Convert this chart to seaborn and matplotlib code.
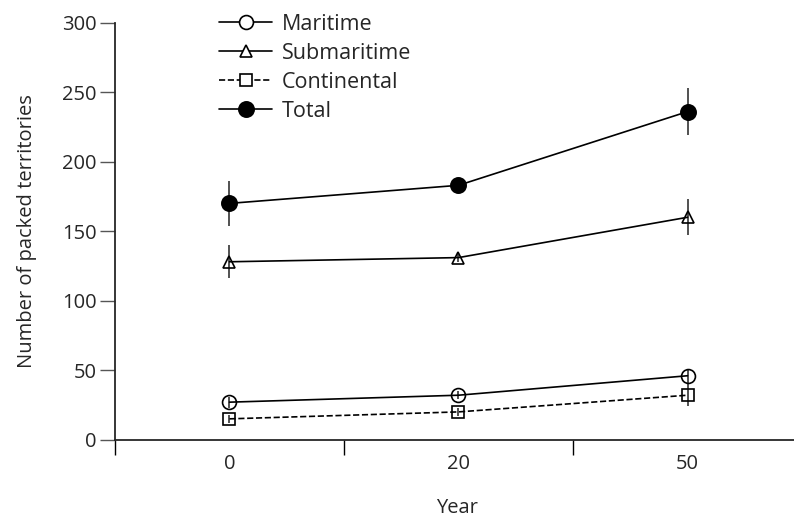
import pandas as pd
import matplotlib.pyplot as plt
import seaborn as sns

years = ['0', '20', '50']
positions = [0, 1, 2]

maritime = [27, 32, 46]
maritime_err = [4, 3, 5]
submaritime = [128, 131, 160]
submaritime_err = [12, 3, 13]
continental = [15, 20, 32]
continental_err = [3, 3, 8]
total = [170, 183, 236]
total_err = [16, 3, 17]

sns.set_style('ticks')
plt.rcParams['font.family'] = ['Open Sans', 'DejaVu Sans']
plt.rcParams['font.size'] = 14.5

fig = plt.figure(figsize=(7.94, 5.19), dpi=100)
ax = fig.add_axes([0.1448, 0.1528, 0.8552, 0.8035])

series = [
    ('Maritime', maritime, maritime_err, 'o', '-', 'none', 10),
    ('Submaritime', submaritime, submaritime_err, '^', '-', 'none', 9),
    ('Continental', continental, continental_err, 's', '--', 'none', 9),
    ('Total', total, total_err, 'o', '-', 'black', 11),
]

for name, vals, errs, mk, ls, fc, ms in series:
    df = pd.DataFrame({'x': positions, 'y': vals})
    ax.errorbar(df['x'], df['y'], yerr=errs, fmt='none', ecolor='#333333',
                elinewidth=1.2, capsize=0, zorder=1)
    sns.lineplot(data=df, x='x', y='y', ax=ax, color='black', linestyle=ls,
                 linewidth=1.2, marker=mk, markersize=ms, markerfacecolor=fc,
                 markeredgecolor='black', markeredgewidth=1.2, label=name,
                 zorder=2)

ax.set_xlim(-0.5, 2.465)
ax.set_ylim(0, 300)
ax.set_yticks([0, 50, 100, 150, 200, 250, 300])
ax.set_xticks(positions)
ax.set_xticklabels(years)
ax.set_xticks([-0.5, 0.5, 1.5], minor=True)
ax.tick_params(axis='x', which='major', length=0, pad=10)
ax.tick_params(axis='x', which='minor', length=11, width=1, color='black')
ax.tick_params(axis='y', length=11, width=1, color='#555555', pad=2)

sns.despine(ax=ax)
for s in ['left', 'bottom']:
    ax.spines[s].set_linewidth(1.3)

ax.set_xlabel('Year')
ax.set_ylabel('Number of packed territories')
ax.xaxis.set_label_coords(0.504, -0.14)
ax.yaxis.set_label_coords(-0.115, 0.5)

leg = ax.legend(loc='upper left', bbox_to_anchor=(0.276, 0.973),
                bbox_transform=fig.transFigure, frameon=False, borderpad=0,
                handlelength=2.45, handletextpad=0.45, labelspacing=0.37,
                borderaxespad=0, fontsize=15.5)
for h in leg.legend_handles:
    if h.get_markerfacecolor() == 'none':
        h.set_markerfacecolor('white')

fig.savefig('out.png', dpi=100)
